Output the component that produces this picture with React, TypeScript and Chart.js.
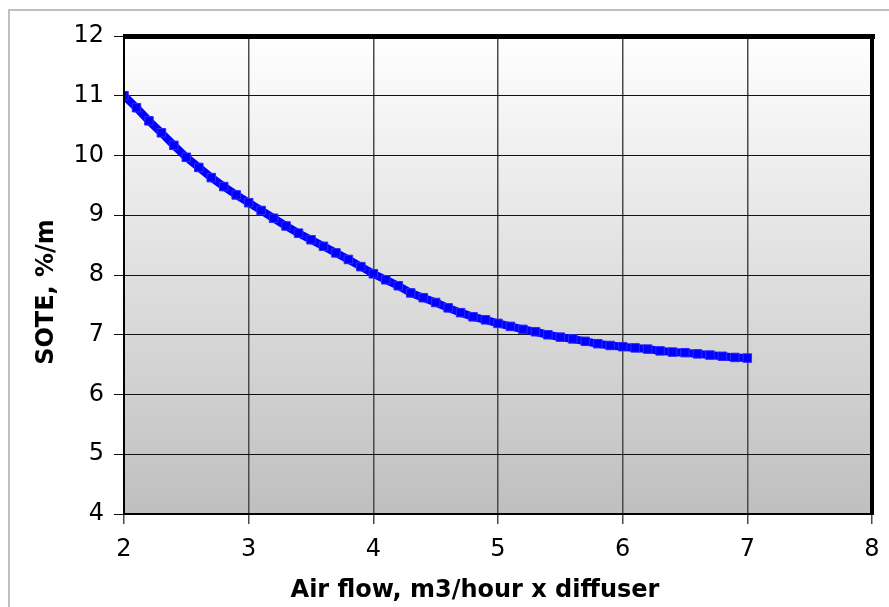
import React, { useEffect, useRef } from "react";
import { Chart, registerables } from "chart.js";

Chart.register(...registerables);

const airFlow = [
  2.0, 2.1, 2.2, 2.3, 2.4, 2.5, 2.6, 2.7, 2.8, 2.9,
  3.0, 3.1, 3.2, 3.3, 3.4, 3.5, 3.6, 3.7, 3.8, 3.9,
  4.0, 4.1, 4.2, 4.3, 4.4, 4.5, 4.6, 4.7, 4.8, 4.9,
  5.0, 5.1, 5.2, 5.3, 5.4, 5.5, 5.6, 5.7, 5.8, 5.9,
  6.0, 6.1, 6.2, 6.3, 6.4, 6.5, 6.6, 6.7, 6.8, 6.9, 7.0,
];
const sote = [
  11.0, 10.8, 10.58, 10.38, 10.17, 9.97, 9.8, 9.63, 9.48, 9.34,
  9.21, 9.08, 8.95, 8.82, 8.7, 8.59, 8.48, 8.37, 8.26, 8.14,
  8.02, 7.92, 7.82, 7.7, 7.62, 7.54, 7.45, 7.37, 7.3, 7.25,
  7.19, 7.14, 7.09, 7.05, 7.0, 6.96, 6.93, 6.89, 6.85, 6.82,
  6.8, 6.78, 6.76, 6.73, 6.71, 6.7, 6.68, 6.66, 6.64, 6.62, 6.61,
];
const xTicks = [2, 3, 4, 5, 6, 7, 8];
const yTicks = [4, 5, 6, 7, 8, 9, 10, 11, 12];
const xTitle = "Air flow, m3/hour x diffuser";
const yTitle = "SOTE, %/m";

const FONT = "'DejaVu Sans', Verdana, sans-serif";

export default function App() {
  const ref = useRef<HTMLCanvasElement | null>(null);

  useEffect(() => {
    const canvas = ref.current;
    if (!canvas) return;

    const framePlugin = {
      id: "frame",
      beforeDraw(chart: any) {
        const { ctx, chartArea } = chart;
        ctx.save();
        ctx.fillStyle = "#ffffff";
        ctx.fillRect(0, 0, chart.width, chart.height);
        ctx.fillStyle = "#c0c0c0";
        ctx.fillRect(8, 9, chart.width, 2);
        ctx.fillRect(8, 9, 2, chart.height);
        const { left, top, right, bottom } = chartArea;
        const g = ctx.createLinearGradient(0, top, 0, bottom);
        g.addColorStop(0, "#ffffff");
        g.addColorStop(1, "#bfbfbf");
        ctx.fillStyle = g;
        ctx.fillRect(left, top, right - left, bottom - top);
        ctx.restore();
      },
      afterDraw(chart: any) {
        const { ctx, chartArea } = chart;
        const { left, top, right, bottom } = chartArea;
        ctx.save();
        ctx.fillStyle = "#000000";
        ctx.fillRect(left - 1, bottom - 1, right - left + 2, 2);
        ctx.fillRect(left - 1, top, 2, bottom - top);
        ctx.fillRect(left - 1, top - 2, right - left + 4, 5);
        ctx.fillRect(right - 2, top - 2, 4, bottom - top + 3);
        ctx.font = `bold 24px ${FONT}`;
        ctx.textBaseline = "alphabetic";
        ctx.textAlign = "center";
        ctx.fillText(xTitle, 475, 597);
        ctx.translate(53, 292);
        ctx.rotate(-Math.PI / 2);
        ctx.fillText(yTitle, 0, 0);
        ctx.restore();
      },
    };

    const chart = new Chart(canvas, {
      type: "line",
      data: {
        datasets: [
          {
            data: airFlow.map((x, i) => ({ x, y: sote[i] })),
            borderColor: "#0000ff",
            backgroundColor: "#0000ff",
            borderWidth: 8,
            pointStyle: "rect",
            pointRadius: 6,
            pointBorderWidth: 1,
            pointBorderColor: "#2a2aff",
            pointBackgroundColor: "#0000ff",
            tension: 0,
            fill: false,
          },
        ],
      },
      options: {
        responsive: false,
        animation: false,
        events: [],
        layout: { padding: { top: 36, right: 17, left: 0, bottom: 0 } },
        plugins: {
          legend: { display: false },
          tooltip: { enabled: false },
        },
        scales: {
          x: {
            type: "linear",
            min: 2,
            max: 8,
            afterBuildTicks(scale: any) {
              scale.ticks = xTicks.map((v) => ({ value: v }));
            },
            afterFit(scale: any) {
              scale.height = 93;
              scale.paddingLeft = 0;
              scale.paddingRight = 0;
            },
            border: { display: false },
            grid: {
              color: "#4a4a4a",
              lineWidth: 1.5,
              tickLength: 10,
              drawTicks: true,
            },
            ticks: {
              color: "#000000",
              font: { family: FONT, size: 24 },
              padding: 11,
              maxRotation: 0,
              autoSkip: false,
            },
          },
          y: {
            type: "linear",
            min: 4,
            max: 12,
            afterBuildTicks(scale: any) {
              scale.ticks = yTicks.map((v) => ({ value: v }));
            },
            afterFit(scale: any) {
              scale.width = 124;
              scale.paddingTop = 0;
              scale.paddingBottom = 0;
            },
            border: { display: false },
            grid: {
              color: "#111111",
              lineWidth: 1,
              tickLength: 10,
              drawTicks: true,
            },
            ticks: {
              color: "#000000",
              font: { family: FONT, size: 24 },
              padding: 10,
              autoSkip: false,
            },
          },
        },
      },
      plugins: [framePlugin],
    });

    return () => chart.destroy();
  }, []);

  return (
    <div style={{ position: "fixed", left: 0, top: 0, width: 889, height: 607 }}>
      <canvas ref={ref} width={889} height={607} style={{ display: "block" }} />
    </div>
  );
}
